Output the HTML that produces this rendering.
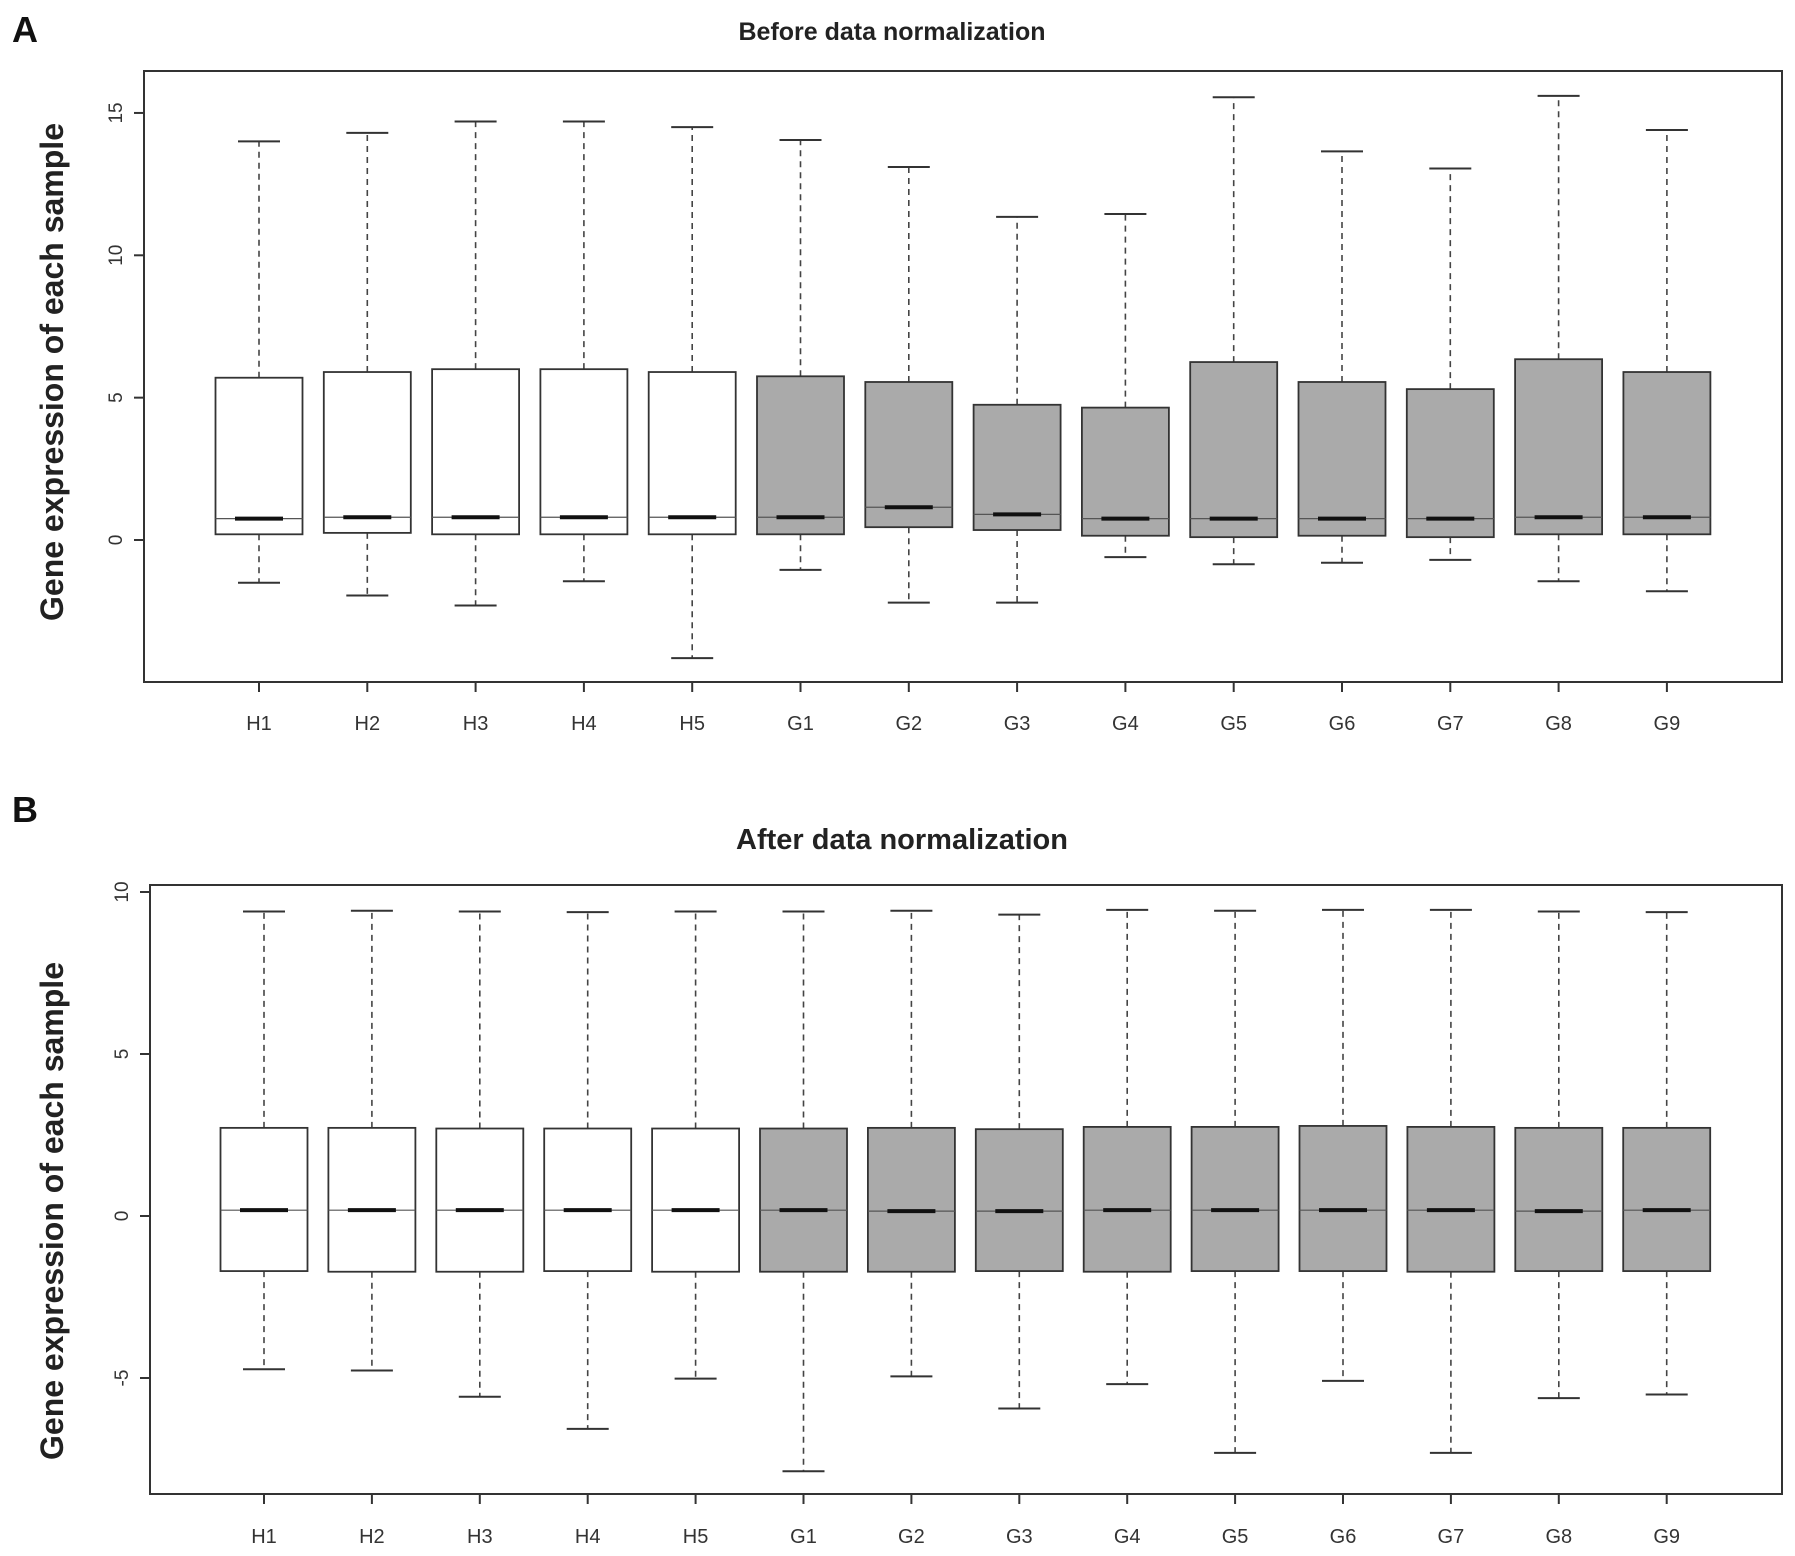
<!DOCTYPE html>
<html><head><meta charset="utf-8"><style>
html,body{margin:0;padding:0;background:#fff;}
svg{display:block;font-family:"Liberation Sans",Arial,sans-serif;}
</style></head><body>
<svg id="chart" width="1795" height="1556" viewBox="0 0 1795 1556"></svg>
<script>
const categories=["H1","H2","H3","H4","H5","G1","G2","G3","G4","G5","G6","G7","G8","G9"];
const groups=["H","H","H","H","H","G","G","G","G","G","G","G","G","G"];
const aMin=[-1.5,-1.95,-2.3,-1.45,-4.15,-1.05,-2.2,-2.2,-0.6,-0.85,-0.8,-0.7,-1.45,-1.8];
const aQ1=[0.2,0.25,0.2,0.2,0.2,0.2,0.45,0.35,0.15,0.1,0.15,0.1,0.2,0.2];
const aMed=[0.75,0.8,0.8,0.8,0.8,0.8,1.15,0.9,0.75,0.75,0.75,0.75,0.8,0.8];
const aQ3=[5.7,5.9,6.0,6.0,5.9,5.75,5.55,4.75,4.65,6.25,5.55,5.3,6.35,5.9];
const aMax=[14.0,14.3,14.7,14.7,14.5,14.05,13.1,11.35,11.45,15.55,13.65,13.05,15.6,14.4];
const bMin=[-4.73,-4.77,-5.58,-6.57,-5.02,-7.88,-4.95,-5.94,-5.19,-7.31,-5.09,-7.31,-5.62,-5.51];
const bQ1=[-1.7,-1.72,-1.72,-1.7,-1.72,-1.72,-1.72,-1.7,-1.72,-1.7,-1.7,-1.72,-1.7,-1.7];
const bMed=[0.18,0.18,0.18,0.18,0.18,0.18,0.15,0.15,0.18,0.18,0.18,0.18,0.15,0.18];
const bQ3=[2.72,2.72,2.7,2.7,2.7,2.7,2.72,2.68,2.75,2.75,2.78,2.75,2.72,2.72];
const bMax=[9.4,9.42,9.4,9.38,9.4,9.4,9.42,9.3,9.45,9.42,9.45,9.45,9.4,9.38];
const aTicks=[0,5,10,15];
const bTicks=[-5,0,5,10];

const NS="http://www.w3.org/2000/svg";
const svg=document.getElementById('chart');
function mk(tag,attrs,parent,text){const e=document.createElementNS(NS,tag);for(const k in attrs)e.setAttribute(k,attrs[k]);if(text!==undefined)e.textContent=text;(parent||svg).appendChild(e);return e;}

function panel(cfg){
  const g=mk('g',{});
  
  
  const y=v=>cfg.y0-v*cfg.pu;
  const x=i=>cfg.x0+i*cfg.dx;
  const frame=mk('rect',{x:cfg.L,y:cfg.T,width:cfg.R-cfg.L,height:cfg.B-cfg.T,fill:'none',stroke:'#333','stroke-width':2},g);
  
  
  const t=mk('text',{x:cfg.tx,y:cfg.ty,'text-anchor':'middle','font-size':cfg.tfs,'font-weight':'bold',fill:'#222'},g,cfg.title);
  
  
  const pl=mk('text',{x:12,y:cfg.ly,'font-size':36,'font-weight':'bold',fill:'#111'},g,cfg.letter);
  
  
  const yt=mk('text',{x:0,y:0,transform:`translate(63,${cfg.ymid}) rotate(-90)`,'text-anchor':'middle','font-size':32,'font-weight':'bold',fill:'#222'},g,'Gene expression of each sample');
  
  
  cfg.ticks.forEach(v=>{
    mk('line',{x1:cfg.L-10,x2:cfg.L,y1:y(v),y2:y(v),stroke:'#333','stroke-width':2},g);
    const tl=mk('text',{x:0,y:0,transform:`translate(${cfg.L-22},${y(v)}) rotate(-90)`,'text-anchor':'middle','font-size':19,fill:'#333'},g,String(v));
    
    
  });
  categories.forEach((c,i)=>{
    const cx=x(i),hw=43.5,cap=21;
    const fill=groups[i]==='G'?'#aaaaaa':'#ffffff';
    const bx=mk('g',{},g);
    
    
    mk('line',{x1:cx,x2:cx,y1:y(cfg.q3[i]),y2:y(cfg.max[i]),stroke:'#444','stroke-width':1.6,'stroke-dasharray':'6,5'},bx);
    mk('line',{x1:cx,x2:cx,y1:y(cfg.q1[i]),y2:y(cfg.min[i]),stroke:'#444','stroke-width':1.6,'stroke-dasharray':'6,5'},bx);
    mk('line',{x1:cx-cap,x2:cx+cap,y1:y(cfg.max[i]),y2:y(cfg.max[i]),stroke:'#333','stroke-width':2},bx);
    mk('line',{x1:cx-cap,x2:cx+cap,y1:y(cfg.min[i]),y2:y(cfg.min[i]),stroke:'#333','stroke-width':2},bx);
    mk('rect',{x:cx-hw,y:y(cfg.q3[i]),width:2*hw,height:y(cfg.q1[i])-y(cfg.q3[i]),fill:fill,stroke:'#333','stroke-width':1.8},bx);
    mk('line',{x1:cx-hw,x2:cx+hw,y1:y(cfg.med[i]),y2:y(cfg.med[i]),stroke:'#555','stroke-width':1.2},bx);
    mk('line',{x1:cx-24,x2:cx+24,y1:y(cfg.med[i]),y2:y(cfg.med[i]),stroke:'#111','stroke-width':4},bx);
    mk('line',{x1:cx,x2:cx,y1:cfg.B,y2:cfg.B+10,stroke:'#333','stroke-width':2},g);
    const xl=mk('text',{x:cx,y:cfg.xly,'text-anchor':'middle','font-size':20,fill:'#333'},g,c);
    
    
  });
}
panel({name:'panel-a-before',L:144,R:1782,T:71,B:682,x0:259,dx:108.3,y0:540,pu:28.47,ticks:aTicks,
  min:aMin,q1:aQ1,med:aMed,q3:aQ3,max:aMax,title:'Before data normalization',tx:892,ty:40,tfs:25,letter:'A',ly:42,ymid:372,xly:730});
panel({name:'panel-b-after',L:150,R:1782,T:885,B:1494,x0:264,dx:107.9,y0:1216,pu:32.4,ticks:bTicks,
  min:bMin,q1:bQ1,med:bMed,q3:bQ3,max:bMax,title:'After data normalization',tx:902,ty:849,tfs:29,letter:'B',ly:822,ymid:1211,xly:1543});
</script>
</body></html>
